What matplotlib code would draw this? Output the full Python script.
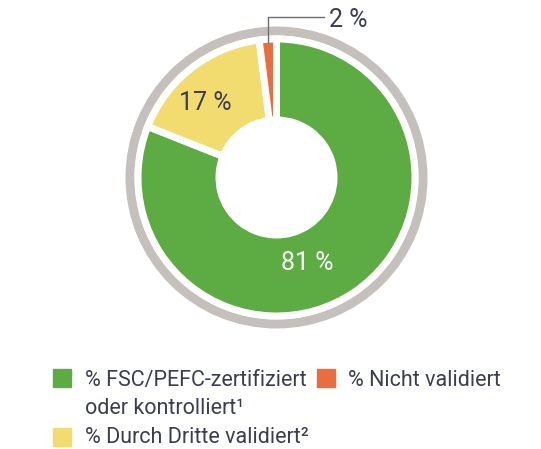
import matplotlib.pyplot as plt
from matplotlib.patches import Wedge, Rectangle

plt.rcParams['font.family'] = ['Roboto', 'DejaVu Sans']

labels = ["% FSC/PEFC-zertifiziert", "% Durch Dritte validiert²", "% Nicht validiert"]
values = [81, 17, 2]
colors = ["#5dab43", "#f2dc6f", "#e96d3f"]
pct_text = ["81 %", "17 %", "2 %"]

W, H = 541, 449
fig = plt.figure(figsize=(W / 100, H / 100), dpi=100)
ax = fig.add_axes([0, 0, 1, 1])

cx, cy = 276.5, H - 177.5
gap = 7  # white gap between slices, px

# grey outer ring
ax.add_patch(Wedge((cx, cy), 151, 0, 360, width=9, facecolor="#c6c0bd", edgecolor="none"))

# donut slices (white edges make the gaps)
ax.pie(values, colors=colors, startangle=90, counterclock=False,
       center=(cx, cy), radius=135 + gap / 2, frame=True,
       wedgeprops=dict(width=135 - 61 + gap, edgecolor="white", linewidth=gap * 0.72))
ax.set_xlim(0, W)
ax.set_ylim(0, H)
ax.set_aspect("equal")
ax.axis("off")

dark = "#3b3e52"
ax.text(307, H - 263, pct_text[0], color="white", fontsize=18, ha="center", va="center")
ax.text(205, H - 103, pct_text[1], color=dark, fontsize=18, ha="center", va="center")
ax.text(329, H - 20, pct_text[2], color=dark, fontsize=18, ha="left", va="center")
# leader line for the small slice
ax.plot([268, 268, 324], [H - 42, H - 17, H - 17], color="#6e6e6e", lw=1.0)

# legend
fs = 15.5
ax.add_patch(Rectangle((53, H - 387), 18, 18, color=colors[0]))
ax.text(85, H - 386, labels[0], fontsize=fs, color=dark, va="baseline")
ax.add_patch(Rectangle((317, H - 387), 18, 18, color=colors[2]))
ax.text(348, H - 386, labels[2], fontsize=fs, color=dark, va="baseline")
ax.text(85, H - 414, "oder kontrolliert¹", fontsize=fs, color=dark, va="baseline")
ax.add_patch(Rectangle((53, H - 446), 18, 18, color=colors[1]))
ax.text(85, H - 443, labels[1], fontsize=fs, color=dark, va="baseline")

fig.savefig("out.png", dpi=100)
